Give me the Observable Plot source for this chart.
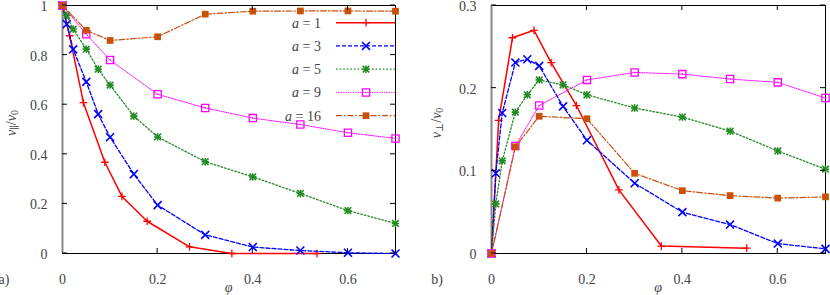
<!DOCTYPE html>
<html><head><meta charset="utf-8">
<script src="https://cdn.jsdelivr.net/npm/d3@7"></script>
<script src="https://cdn.jsdelivr.net/npm/@observablehq/plot@0.6"></script>
<style>
body{margin:0;background:#fff}
#c{display:flex;width:830px;height:295px}
svg, svg text, svg tspan{font-family:"Liberation Serif","Times New Roman","DejaVu Serif",serif !important}
</style>
</head><body><div id="c"></div>
<script>
// ---- data ----
const aValues = [1, 3, 5, 9, 16];

const phiA1 = [0, 0.015, 0.044, 0.089, 0.125, 0.178, 0.267, 0.356, 0.535];
const vparA1 = [1, 0.878, 0.608, 0.368, 0.23, 0.13, 0.027, 0, 0];
const vperpA1 = [0, 0.161, 0.261, 0.270, 0.231, 0.179, 0.077, 0.009, 0.0065];

const phiA3 = [0, 0.009, 0.0225, 0.05, 0.075, 0.1, 0.15, 0.2, 0.3, 0.4, 0.5, 0.6, 0.7];
const vparA3 = [1, 0.925, 0.823, 0.692, 0.562, 0.469, 0.320, 0.195, 0.075, 0.026, 0.012, 0.003, 0.0];
const vperpA3 = [0, 0.097, 0.170, 0.231, 0.235, 0.227, 0.178, 0.137, 0.085, 0.050, 0.035, 0.012, 0.0056];

const phiA5 = [0, 0.009, 0.0225, 0.05, 0.075, 0.1, 0.15, 0.2, 0.3, 0.4, 0.5, 0.6, 0.7];
const vparA5 = [1, 0.96, 0.905, 0.824, 0.743, 0.679, 0.554, 0.470, 0.370, 0.309, 0.242, 0.173, 0.121];
const vperpA5 = [0, 0.06, 0.112, 0.171, 0.192, 0.210, 0.204, 0.192, 0.176, 0.165, 0.148, 0.124, 0.102];

const phiA9 = [0, 0.05, 0.1, 0.2, 0.3, 0.4, 0.5, 0.6, 0.7];
const vparA9 = [1, 0.884, 0.78, 0.642, 0.587, 0.546, 0.52, 0.487, 0.464];
const vperpA9 = [0, 0.130, 0.179, 0.210, 0.219, 0.217, 0.211, 0.207, 0.188];

const phiA16 = [0, 0.05, 0.1, 0.2, 0.3, 0.4, 0.5, 0.6, 0.7];
const vparA16 = [1, 0.90, 0.859, 0.874, 0.965, 0.977, 0.978, 0.978, 0.977];
const vperpA16 = [0, 0.129, 0.166, 0.163, 0.097, 0.076, 0.070, 0.067, 0.0685];

const xTicks = [0, 0.2, 0.4, 0.6];
const yTicksPar = [0, 0.2, 0.4, 0.6, 0.8, 1];
const yTicksPerp = [0, 0.1, 0.2, 0.3];

// ---- styles ----
const FONT = '"Liberation Serif", "Times New Roman", "DejaVu Serif", serif';
const FS = 14;
const seriesStyle = [
  {color: "#ff0000", width: 1.5, dash: null, marks: [{symbol: "plus", r: 2.6, sw: 1.3}]},
  {color: "#0000ff", width: 1.3, dash: "4,2", marks: [{symbol: "times", r: 3.7, sw: 1.6}]},
  {color: "#228b22", width: 1.3, dash: "1.6,2", marks: [{symbol: "plus", r: 2.5, sw: 1.6}, {symbol: "times", r: 3.1, sw: 1.6}]},
  {color: "#ff00ff", width: 1.0, dash: "1.2,1.2", marks: [{symbol: "square2", r: 4.6, sw: 1.3}, {symbol: "circle", r: 0.8, fill: true}]},
  {color: "#c8500a", width: 1.2, dash: "6,2,1.5,2", marks: [{symbol: "square", r: 3.8, fill: true}]}
];
const d3sym = {plus: d3.symbolPlus, times: d3.symbolTimes, square: d3.symbolSquare, square2: d3.symbolSquare2, circle: d3.symbolCircle};

const parSeries = [[phiA1, vparA1], [phiA3, vparA3], [phiA5, vparA5], [phiA9, vparA9], [phiA16, vparA16]];
const perpSeries = [[phiA1, vperpA1], [phiA3, vperpA3], [phiA5, vperpA5], [phiA9, vperpA9], [phiA16, vperpA16]];

const textColor = "#444";

function seriesMarks(series) {
  const marks = [];
  series.forEach(([phi, vals], k) => {
    const st = seriesStyle[k];
    const rows = phi.map((p, i) => ({phi: p, v: vals[i]}));
    marks.push(Plot.line(rows, {x: "phi", y: "v", stroke: st.color, strokeWidth: st.width, strokeDasharray: st.dash}));
    st.marks.forEach(m => {
      if (m.fill) marks.push(Plot.dot(rows, {x: "phi", y: "v", symbol: m.symbol, r: m.r, fill: st.color, stroke: "none"}));
      else marks.push(Plot.dot(rows, {x: "phi", y: "v", symbol: m.symbol, r: m.r, stroke: st.color, strokeWidth: m.sw, fill: "none"}));
    });
  });
  return marks;
}

function panel({series, yDomain, yTicks, marginLeft, marginRight, tag, tagX, sub, labelX, legend}) {
  const plot = Plot.plot({
    width: 415, height: 295,
    marginTop: 5, marginBottom: 42, marginLeft, marginRight,
    style: {fontFamily: FONT, fontSize: FS + "px", color: textColor, background: "white", overflow: "visible"},
    x: {domain: [0, 0.7]},
    y: {domain: yDomain},
    marks: [
      Plot.axisX({ticks: xTicks, tickSize: 0, tickPadding: 21, tickFormat: d => String(d), label: null, fill: textColor, fontSize: FS}),
      Plot.axisY({ticks: yTicks, tickSize: 0, tickPadding: 15, tickFormat: d => String(d), label: null, fill: textColor, fontSize: FS, dy: 1}),
      Plot.frame({stroke: "black", strokeWidth: 1}),
      Plot.ruleX([0], {stroke: "#888", strokeWidth: 2}),
      ...seriesMarks(series)
    ]
  });
  const sx = plot.scale("x"), sy = plot.scale("y");
  const svg = d3.select(plot);
  const [xl, xr] = sx.range;
  const [yb, yt] = sy.range;
  const g = svg.append("g").attr("stroke", "black").attr("stroke-width", 1);
  const tl = 5;
  xTicks.filter(t => t > 0).forEach(t => {
    const x = sx.apply(t);
    g.append("line").attr("x1", x).attr("x2", x).attr("y1", yb).attr("y2", yb - tl);
    g.append("line").attr("x1", x).attr("x2", x).attr("y1", yt).attr("y2", yt + tl);
  });
  yTicks.forEach(t => {
    const y = sy.apply(t);
    g.append("line").attr("x1", xl).attr("x2", xl + tl).attr("y1", y).attr("y2", y);
    g.append("line").attr("x1", xr).attr("x2", xr - tl).attr("y1", y).attr("y2", y);
  });
  const tg = svg.append("g").attr("fill", textColor).attr("font-size", FS);
  tg.append("text").attr("x", tagX).attr("y", 284).text(tag);
  tg.append("text").attr("x", (xl + xr) / 2).attr("y", 292).attr("text-anchor", "middle").attr("font-style", "italic").text("φ");
  const yl = tg.append("text").attr("transform", `translate(${labelX},${(yb + yt) / 2 - 6}) rotate(-90)`)
    .attr("text-anchor", "middle").attr("dominant-baseline", "central");
  yl.append("tspan").attr("font-style", "italic").text("v");
  yl.append("tspan").attr("font-size", 10).attr("dy", 3).text(sub);
  yl.append("tspan").attr("dy", -3).text("/");
  yl.append("tspan").attr("font-style", "italic").text("v");
  yl.append("tspan").attr("font-size", 10).attr("dy", 3).text("0");

  if (legend) {
    const lg = svg.append("g");
    aValues.forEach((a, k) => {
      const st = seriesStyle[k];
      const y = 22.7 + k * 23.25;
      const t = lg.append("text").attr("x", 321).attr("y", y).attr("dy", "0.35em").attr("text-anchor", "end")
        .attr("fill", textColor).attr("font-size", FS);
      t.append("tspan").attr("font-style", "italic").text("a");
      t.append("tspan").text(` = ${a}`);
      lg.append("line").attr("x1", 336).attr("x2", xr).attr("y1", y).attr("y2", y)
        .attr("stroke", st.color).attr("stroke-width", st.width).attr("stroke-dasharray", st.dash);
      st.marks.forEach(m => {
        const p = lg.append("path").attr("transform", `translate(366,${y})`)
          .attr("d", d3.symbol(d3sym[m.symbol], m.r * m.r * Math.PI)());
        if (m.fill) p.attr("fill", st.color);
        else p.attr("fill", "none").attr("stroke", st.color).attr("stroke-width", m.sw);
      });
    });
  }
  svg.attr("font-family", FONT).style("font-family", FONT);
  svg.selectAll("text").attr("font-family", FONT);
  return plot;
}

const c = document.getElementById("c");
c.append(panel({series: parSeries, yDomain: [0, 1], yTicks: yTicksPar, marginLeft: 62, marginRight: 20, tag: "a)", tagX: 4, sub: "∥", labelX: 11, legend: true}));
c.append(panel({series: perpSeries, yDomain: [0, 0.3], yTicks: yTicksPerp, marginLeft: 76, marginRight: 5, tag: "b)", tagX: 22, sub: "⊥", labelX: 21, legend: false}));
</script>
</body></html>
